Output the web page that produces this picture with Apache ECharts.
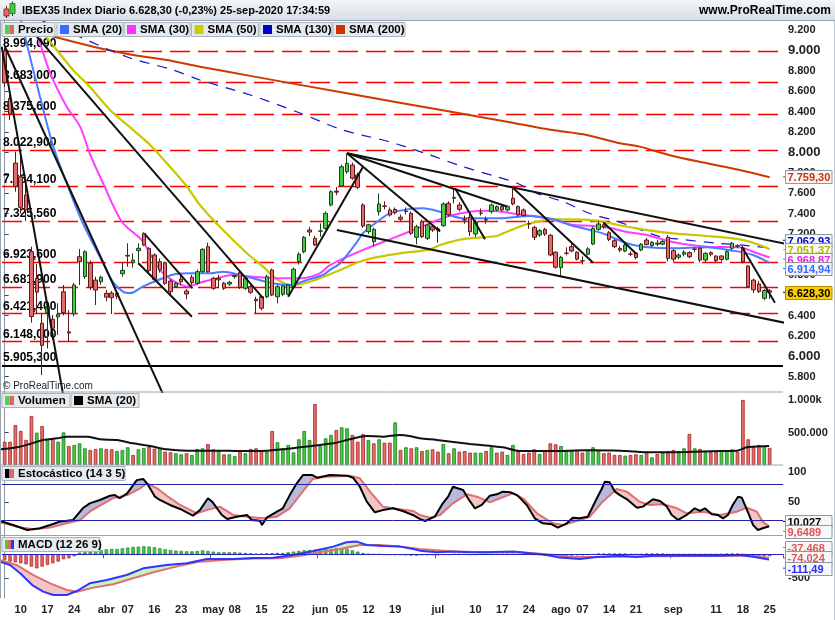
<!DOCTYPE html>
<html>
<head>
<meta charset="utf-8">
<script src="https://cdn.jsdelivr.net/npm/echarts@6/dist/echarts.min.js"></script>
<style>
html,body{margin:0;padding:0;background:#ffffff;}
#chart{width:835px;height:620px;}
</style>
</head>
<body>
<div id="chart"></div>
<script>
// ================= DATA =================
const titleText = 'IBEX35 Index Diario 6.628,30 (-0,23%) 25-sep-2020 17:34:59';
const siteText = 'www.ProRealTime.com';
const firstDay = '2020-03-05';
const lastDay = '2020-09-25';
const holidays = ['2020-04-10', '2020-04-13', '2020-05-01'];

const tickLabels = [
  ['2020-03-10','10'],['2020-03-17','17'],['2020-03-24','24'],['2020-04-01','abr'],['2020-04-07','07'],
  ['2020-04-16','16'],['2020-04-23','23'],['2020-05-04','may'],['2020-05-08','08'],['2020-05-15','15'],
  ['2020-05-22','22'],['2020-06-01','jun'],['2020-06-05','05'],['2020-06-12','12'],['2020-06-19','19'],
  ['2020-07-01','jul'],['2020-07-10','10'],['2020-07-17','17'],['2020-07-24','24'],['2020-08-03','ago'],
  ['2020-08-07','07'],['2020-08-14','14'],['2020-08-21','21'],['2020-09-01','sep'],['2020-09-11','11'],
  ['2020-09-18','18'],['2020-09-25','25']
];
const monthLabels = ['abr','may','jun','jul','ago','sep'];

const priceTicks = [5800,6000,6200,6400,6600,6800,7000,7200,7400,7600,7800,8000,8200,8400,8600,8800,9000,9200];
const volTicks = [500,1000];          // thousands
const stochTicks = [50,100];
const macdTicks = [-500,0];

const openP = [8994,8530,7895,7761,7582,7026,6765,6324,6428,6363,
  6387,6633,6240,6415,6977,6781,6912,6748,6732,6618,
  6620,6618,6810,6990,6918,7036,7206,7059,6994,6928,
  6918,6738,6683,6758,6640,6775,6716,6830,7075,6765,
  6765,6716,6709,6781,6820,6667,6683,6559,6584,6584,
  6847,6584,6608,6608,6683,6928,7026,7239,7157,7226,
  7255,7484,7620,7670,7810,7876,7778,7484,7222,7124,
  7418,7475,7435,7441,7364,7425,7402,7167,7320,7157,
  7271,7250,7281,7500,7558,7484,7340,7364,7199,7405,
  7340,7418,7435,7468,7435,7550,7468,7435,7300,7264,
  7190,7245,7187,7021,6870,7012,7075,7021,6937,7001,
  7101,7245,7290,7212,7134,7059,7033,7003,7011,7042,
  7140,7085,7110,7100,7167,7036,6971,7000,7017,7050,
  7059,6944,7017,6984,6984,6953,7059,7080,7059,6886,
  6748,6709,6569,6643];
const closeP = [8683,8376,7664,7461,7436,6390,6629,6107,6487,6275,
  6412,6428,6228,6699,6928,7026,6676,6650,6775,6580,
  6575,6590,6843,6983,6944,7059,7092,6840,6755,6847,
  6716,6633,6716,6732,6611,6722,6830,7049,6830,6667,
  6750,6667,6726,6791,6676,6765,6628,6545,6471,6781,
  6601,6683,6690,6700,6854,7001,7167,7219,7091,7230,
  7402,7614,7610,7859,7892,7746,7657,7278,7290,7245,
  7494,7470,7386,7408,7344,7420,7206,7271,7173,7288,
  7239,7235,7494,7386,7550,7441,7337,7222,7320,7402,
  7337,7484,7468,7435,7468,7494,7386,7380,7298,7167,
  7232,7199,6994,6874,6972,7010,7033,6953,6935,7053,
  7255,7298,7270,7147,7075,7042,7092,7001,6968,7098,
  7095,7118,7100,7125,6961,6953,6993,7020,6977,7048,
  6944,7011,7000,6938,6950,7026,7108,7085,6928,6683,
  6652,6636,6645,6628];
const lowP = [8640,8317,7614,7400,7325,6330,6415,5817,6078,6160,
  6209,6400,6143,6390,6699,6760,6650,6503,6700,6540,
  6415,6560,6780,6879,6870,6900,7080,6820,6740,6820,
  6700,6600,6670,6700,6560,6700,6700,6820,6820,6650,
  6667,6650,6690,6760,6660,6650,6610,6422,6450,6570,
  6590,6520,6590,6600,6670,6900,7010,7180,7080,7173,
  7240,7470,7580,7660,7790,7730,7640,7260,7200,7080,
  7380,7440,7370,7390,7320,7390,7190,7100,7160,7140,
  7220,7114,7270,7370,7500,7420,7300,7180,7170,7380,
  7300,7400,7420,7420,7420,7480,7370,7370,7250,7140,
  7170,7180,6980,6860,6781,6990,7020,6940,6900,6990,
  7090,7230,7250,7130,7060,7020,7020,6980,6950,7030,
  7090,7070,7080,7090,6930,6920,6950,6980,6960,7020,
  6920,6920,6980,6920,6930,6940,7040,7060,6910,6670,
  6620,6620,6550,6560];
const highP = [9025,8563,8006,8000,7690,7075,6907,6420,6535,6405,
  6520,6699,6454,6720,7052,7040,6940,6780,6790,6650,
  6640,6640,6920,7108,7010,7108,7215,7070,7010,6960,
  6930,6760,6730,6790,6660,6800,6850,7060,7114,6780,
  6800,6730,6740,6800,6830,6780,6700,6584,6600,6800,
  6860,6700,6700,6710,6870,7020,7180,7270,7180,7304,
  7420,7630,7660,7880,7991,7900,7800,7500,7300,7260,
  7598,7520,7460,7460,7390,7460,7420,7290,7340,7300,
  7290,7270,7510,7520,7648,7510,7380,7400,7340,7450,
  7370,7500,7480,7480,7480,7648,7480,7450,7330,7280,
  7250,7260,7200,7030,6985,7070,7110,7030,6980,7070,
  7270,7330,7316,7230,7150,7080,7100,7030,7020,7110,
  7160,7130,7140,7140,7190,7050,7010,7040,7030,7070,
  7070,7020,7030,6990,6990,7040,7120,7100,7080,6890,
  6760,6740,6660,6660];

// volume in thousands
const volume = [358,358,615,523,385,754,497,600,385,410,
  358,502,292,308,333,256,231,246,256,246,
  241,215,231,272,154,241,262,282,251,256,
  205,195,180,164,180,154,246,256,323,241,
  215,164,164,138,215,180,246,256,215,205,
  523,349,256,308,195,395,523,385,938,292,
  410,462,538,580,564,462,358,477,385,333,
  395,343,343,656,231,272,256,272,215,231,
  241,205,323,180,256,205,215,190,190,190,
  215,272,190,205,154,308,215,169,190,241,
  169,215,333,318,292,231,215,231,190,231,
  272,231,180,190,154,154,144,154,164,154,
  205,118,169,190,215,231,215,256,477,256,
  246,205,195,205,221,215,241,205,1000,395,
  282,308,292,263];

// indicator lines: [trading-day index, value]
const sma20 = [[2.9,9330],[4.1,9070],[6.6,8546],[9.1,8056],[11.6,7697],[14.6,7307],[17.8,6977],[20.2,6732],[22.1,6634],[23.5,6620],[25.8,6683],[28.7,6748],[31.8,6804],[34.9,6814],[38.4,6814],[40.8,6830],[45.3,6781],[49.6,6722],[53.3,6699],[56.5,6748],[59.5,6797],[60.8,6847],[62.7,6912],[65.9,7124],[67,7209],[70.1,7337],[72,7402],[75.2,7441],[78.2,7451],[81.4,7418],[85.7,7353],[92,7353],[98.2,7376],[103.2,7337],[105.7,7288],[109.4,7239],[111.8,7206],[116.3,7108],[119.3,7075],[124.9,7059],[131.3,7069],[136.1,7036],[139.9,6994],[143,6915]];
const sma30 = [[5.3,9280],[6.6,9073],[8.5,8778],[11.6,8448],[14.1,8252],[15.9,7991],[18.4,7697],[21.9,7320],[25.6,7141],[27.5,6977],[29.3,6830],[31.8,6732],[34.3,6683],[36.2,6716],[38.4,6748],[42.7,6797],[46.4,6781],[51.5,6765],[55.2,6765],[58.9,6814],[60.8,6895],[67,7043],[73.3,7173],[79.5,7304],[82.7,7370],[87,7418],[90.7,7428],[95.8,7396],[101.4,7353],[106,7290],[109.4,7280],[113,7260],[116.3,7220],[120,7190],[124.9,7120],[131.3,7075],[137.4,7069],[139.9,7026],[143,6969]];
const sma50 = [[6.3,9230],[8.5,9085],[12.8,8808],[15.9,8644],[19.7,8416],[24,8220],[27.2,8072],[30.3,7893],[34.1,7663],[36.5,7484],[40.2,7271],[45.3,7010],[48.3,6879],[50.9,6755],[53.9,6699],[56.5,6722],[58.9,6765],[62.7,6847],[66.4,6928],[70.1,6977],[73.9,7010],[79.5,7049],[81.4,7092],[85.7,7150],[92,7180],[93.9,7222],[97.6,7295],[102.5,7343],[105.7,7343],[110.7,7330],[113.7,7298],[118.7,7250],[124.9,7206],[131.3,7180],[137.4,7147],[139.9,7114],[143,7051]];
const sma130 = [[6.6,9300],[14.1,9131],[22.9,8935],[31.5,8808],[36.5,8710],[45.9,8563],[55.2,8386],[63.2,8219],[70.7,8121],[73.3,8082],[79.5,7975],[85.7,7859],[92,7761],[95.8,7697],[99.5,7598],[104.4,7516],[109.4,7400],[113.7,7337],[118.2,7255],[122.5,7173],[126,7150],[133,7110],[138,7090],[143,7063]];
const sma200 = [[-0.5,9265],[11.6,9102],[17.8,9021],[24,8955],[30.3,8906],[36.5,8840],[45.9,8750],[64.5,8574],[83.2,8400],[92.6,8312],[102.5,8219],[108.8,8170],[115,8089],[118.7,8056],[124.9,7964],[131.3,7893],[137.4,7827],[143,7756]];
const volSma = [[-0.9,241],[2.3,272],[4.7,323],[7.2,385],[9.8,410],[11.6,436],[15.4,436],[17.8,395],[21,385],[24,333],[27.2,292],[30.3,241],[34.1,221],[39.7,221],[44,215],[49,221],[52,241],[55.2,272],[58.9,308],[61.4,333],[64.5,395],[67.7,446],[70.7,436],[73.9,462],[76.3,436],[77.6,410],[80.8,385],[87,323],[93.1,272],[96.3,215],[102.5,215],[108.8,226],[115,221],[121.2,195],[127.5,200],[133.7,215],[136.9,221],[138.7,272],[139.9,282],[142.9,291]];
const stochK = [[-0.9,18.9],[1.6,12.2],[4.2,3.9],[6.6,6.7],[8.5,12.2],[10.3,17.8],[12.8,20.6],[14.6,40],[15.9,48.3],[17.8,53.9],[19.7,61],[20.6,62],[21.5,56.7],[22.9,65],[24.7,87],[25.9,89],[26.8,79],[28.1,59.4],[29,53.9],[30.9,45.6],[32.8,38.9],[35.2,27.8],[36.5,37],[38,56.7],[38.9,50],[40.6,28.9],[41.6,22.2],[43.4,26],[45.3,28.9],[46.2,20.6],[47.7,19.4],[48.1,12.2],[49,24.4],[50.9,34.4],[52,40],[53.3,62],[54.6,81.7],[55.8,95.6],[57.4,95.6],[58.4,91],[60.8,95.6],[64,94.4],[65.1,91],[66.4,76],[67.7,51],[69.2,33.3],[70.7,37],[72.6,40],[74.4,35.6],[76.3,28.9],[77.6,22.2],[78.6,18.9],[80.4,26],[81.9,48.3],[82.9,59.4],[83.8,76],[85.7,70.6],[86.6,56.7],[87.9,40],[89.2,45.6],[90.7,61],[92,63.3],[93.1,67.8],[94.5,66.7],[95.8,62],[97.6,45.6],[99.1,23.3],[100.6,15],[102.3,13.3],[103.4,7.8],[105.1,15],[106.2,24.4],[107.5,23.3],[109,26],[110.7,56.7],[111.6,72.2],[112.2,84.4],[113.1,83.3],[114.1,67.8],[115,62],[116.5,53.9],[118.2,41],[119.3,42.8],[121.2,55],[122.5,52.2],[123.8,42.8],[124.7,28.9],[125.9,20.6],[127.5,28.9],[129,40],[130,35.6],[130.9,40],[132.2,30],[133.3,28.9],[134.3,23.3],[135.2,28.9],[136.1,45.6],[137.1,59.4],[137.8,57.8],[138.9,34.4],[139.9,12.2],[140.8,3.9],[141.7,6.7],[142.9,10.0]];
const stochD = [[-0.9,16.7],[2.3,9.4],[5.3,5],[8.5,7.8],[11.6,15],[14.1,20.6],[15.9,34.4],[17.8,44.4],[20.2,56.7],[22.9,62],[25.3,73.3],[26.6,81.7],[28.5,73.3],[30.3,61],[32.8,45.6],[35.9,31.7],[37.8,37],[40.2,42.8],[42.7,28.9],[45.3,26],[48.3,23.3],[50.9,26],[53.3,40],[55.2,62],[57.6,89],[60.2,92.8],[64.5,94.4],[66.4,90],[68.3,67.8],[70.7,42.8],[73.9,38.3],[76.3,35.6],[77.6,28.9],[79.5,24.4],[81.4,28.9],[83.8,48.3],[86.4,63.3],[88.3,59.4],[90.7,50],[92.6,56.7],[95,65],[96.9,56.7],[99.5,31.7],[102.5,15],[104.4,12.2],[107.5,20.6],[109.4,26],[111.8,51],[114.4,72.2],[116.3,67.8],[118.7,51],[120.6,45.6],[123.1,46.7],[125.7,40],[127.5,31.7],[130.5,34.4],[133.7,28.9],[136.9,34.4],[138.7,41],[140.6,34.4],[141.7,17.8],[142.9,9.6]];
const macdLine = [[-0.9,-153],[1,-222],[2.9,-396],[5.3,-653],[7.2,-778],[9.1,-847],[11.6,-847],[13.5,-764],[15.9,-604],[19.1,-535],[22.8,-430],[25.9,-292],[30.3,-222],[34,-188],[37.8,-97],[42.7,-97],[46.5,-78],[50.2,-70],[53.9,-14],[57.7,69],[61.4,160],[63.9,250],[65.8,264],[67.7,194],[70.8,174],[73.9,160],[76.4,111],[77.6,76],[80.7,42],[83.9,56],[87,42],[90.1,42],[95.1,56],[98.2,21],[101.3,-14],[103.8,-69],[107.5,-97],[110.7,-56],[115,-28],[118.1,-56],[121.2,-28],[127.5,-28],[133.7,-28],[137.4,-14],[139.9,-49],[142.9,-111]];
const macdSignal = [[-0.9,-118],[2.2,-222],[5.3,-430],[8.5,-604],[11.6,-743],[13.5,-778],[16.6,-694],[20.3,-625],[24,-500],[27.8,-375],[32.1,-257],[36.5,-153],[41.5,-111],[46.5,-90],[51.5,-83],[55.2,-28],[58.9,42],[62.7,111],[66.4,194],[70.1,194],[73.9,160],[77.6,110],[83.9,56],[90.1,42],[96.3,42],[101.3,0],[105.7,-49],[110.7,-56],[115,-49],[121.2,-42],[127.5,-35],[133.7,-28],[137.4,-28],[139.9,-28],[142.9,-74]];
const macdHist = [-118,-153,-167,-188,-208,-257,-292,-257,-222,-188,
  -153,-104,-83,-42,35,42,56,69,90,104,
  111,111,125,139,153,160,167,160,146,125,
  104,90,76,69,62,62,69,83,69,56,
  42,42,42,42,35,28,21,7,14,21,
  21,28,28,42,56,69,83,90,97,111,
  125,111,125,125,111,83,56,28,7,0,
  0,-14,-14,-14,-14,-21,-28,-28,-21,-21,
  -21,-21,-14,-14,0,0,0,-14,-14,0,
  0,0,0,0,7,7,0,0,-7,-14,
  -14,-21,-21,-28,-28,-28,-28,-21,-21,-14,
  -7,14,14,14,14,14,14,0,0,0,
  14,14,14,14,0,0,0,0,0,0,
  0,0,0,0,0,14,14,14,0,-14,
  -28,-35,-35,-37];

// horizontal levels drawn on the price chart
const levelLines = [8994.09, 8683.0, 8375.6, 8022.9, 7664.1, 7325.56, 6923.6, 6681.9, 6421.4, 6148.0];
const supportLine = 5905.3;

// hand-drawn trend lines: [[index, value], [index, value]]
const trendLines = [
  [[-0.56,9036],[12,5305]],
  [[0.06,9036],[30,5583]],
  [[5.3,9180],[48.3,6571]],
  [[26.2,7199],[35.1,6667]],
  [[25.0,6912],[35.0,6388]],
  [[53.0,6585],[67.0,7859]],
  [[64.0,7991],[146.0,7103]],
  [[64.0,7991],[93.9,7469]],
  [[64.0,7991],[81.4,7223]],
  [[84.2,7648],[89.8,7147]],
  [[95.1,7648],[110.0,6918]],
  [[62.1,7239],[146.0,6327]],
  [[112.0,7310],[118.1,7003]],
  [[137.8,7075],[144.0,6526]]
];

// last values shown in the right-hand boxes: [value, decimals, colour]
const lastMain = [[7759.30,2,'#cc3300'],[7062.93,2,'#0000cc'],[7051.37,2,'#b5b500'],[6968.87,2,'#ee22ee'],[6914.94,2,'#3366ff']];
const lastPrice = [6628.30,2,'#000000'];
const lastVol = [[291243,0,'#000000'],[263364,0,'#e05555']];
const lastStoch = [[10.027,3,'#000000'],[9.6489,4,'#e05555']];
const lastMacd = [[-37.468,3,'#e05555'],[-74.024,3,'#e05555'],[-111.49,2,'#2a2aff']];

// ================= HELPERS =================
const FONT = 'Liberation Sans, Arial, sans-serif';
function esNum(v, dec) {
  const s = Math.abs(v).toFixed(dec);
  const parts = s.split('.');
  const intPart = parts[0].replace(/\B(?=(\d{3})+(?!\d))/g, '.');
  return (v < 0 ? '-' : '') + intPart + (parts[1] ? ',' + parts[1] : '');
}
function tradingDays() {
  const out = [];
  const hol = new Set(holidays);
  let t = Date.parse(firstDay + 'T00:00:00Z');
  const end = Date.parse(lastDay + 'T00:00:00Z');
  while (t <= end) {
    const d = new Date(t);
    const wd = d.getUTCDay();
    const s = d.toISOString().slice(0, 10);
    if (wd !== 0 && wd !== 6 && !hol.has(s)) out.push(s);
    t += 86400000;
  }
  return out;
}
const days = tradingDays();
const cats = days.concat(['+1', '+2']);
const labelMap = new Map();
const monthTick = new Set();
tickLabels.forEach(([d, txt]) => {
  const i = days.indexOf(d);
  if (i >= 0) { labelMap.set(i, txt); if (monthLabels.includes(txt)) monthTick.add(i); }
});

const candleData = openP.map((o, i) => [o, closeP[i], lowP[i], highP[i]]);
const volData = volume.map((v, i) => {
  const up = i === 0 ? closeP[0] >= openP[0] : closeP[i] >= closeP[i - 1];
  return { value: v, itemStyle: { color: up ? '#45cc45' : '#e86c6c', borderColor: up ? '#1d7a1d' : '#a02525', borderWidth: 0.8 } };
});
const histData = macdHist.map(v => ({ value: v, itemStyle: { color: v >= 0 ? '#3fcc3f' : '#e06060', borderColor: v >= 0 ? '#1d7a1d' : '#a02525', borderWidth: 0.6 } }));

function fillSeries(A, B, upColor, downColor, xi, yi) {
  return {
    type: 'custom', xAxisIndex: xi, yAxisIndex: yi, silent: true, z: 1, clip: true, animation: false,
    data: [[0, 0]],
    renderItem: function (params, api) {
      const pa = A.map(p => api.coord(p)), pb = B.map(p => api.coord(p));
      const lerp = (P, x) => {
        for (let k = 1; k < P.length; k++) {
          if (x <= P[k][0]) { const t = (x - P[k - 1][0]) / (P[k][0] - P[k - 1][0]); return P[k - 1][1] + t * (P[k][1] - P[k - 1][1]); }
        }
        return P[P.length - 1][1];
      };
      const x0 = Math.max(pa[0][0], pb[0][0]), x1 = Math.min(pa[pa.length - 1][0], pb[pb.length - 1][0]);
      const xs = Array.from(new Set(pa.concat(pb).map(p => p[0]))).filter(x => x >= x0 && x <= x1).sort((a, b) => a - b);
      const rows = xs.map(x => [x, lerp(pa, x), lerp(pb, x)]);
      const children = [];
      let top = [], bot = [], acc = 0;
      const flush = () => {
        if (top.length > 1) children.push({ type: 'polygon', shape: { points: top.concat(bot.slice().reverse()) }, style: { fill: acc > 0 ? upColor : downColor } });
        top = []; bot = []; acc = 0;
      };
      for (let k = 0; k < rows.length; k++) {
        const [x, ya, yb] = rows[k];
        if (k > 0) {
          const [px, pya, pyb] = rows[k - 1];
          const d0 = pyb - pya, d1 = yb - ya;
          if (d0 * d1 < 0) {
            const t = d0 / (d0 - d1);
            const cx = px + t * (x - px), cy = pya + t * (ya - pya);
            top.push([cx, cy]); bot.push([cx, cy]); flush();
            top.push([cx, cy]); bot.push([cx, cy]);
          }
        }
        top.push([x, ya]); bot.push([x, yb]); acc += (yb - ya);
      }
      flush();
      return { type: 'group', children: children };
    }
  };
}
function lineSeries(data, color, width, xi, yi, extra) {
  return Object.assign({
    type: 'line', data: data, xAxisIndex: xi, yAxisIndex: yi, symbol: 'none', smooth: 0.3, silent: true,
    lineStyle: { color: color, width: width }, z: 3, clip: true, animation: false
  }, extra || {});
}

// ================= CHART =================
const chart = echarts.init(document.getElementById('chart'), null, { renderer: 'canvas' });
const GL = 2, GW = 781;
const grids = [
  { left: GL, top: 20, width: GW, height: 372 },
  { left: GL, top: 392, width: GW, height: 73 },
  { left: GL, top: 465, width: GW, height: 70 },
  { left: GL, top: 536, width: GW, height: 62 }
];
const axisLineGrey = { show: true, lineStyle: { color: '#8c96a0', width: 1 } };
function catAxis(g, show) {
  return {
    type: 'category', gridIndex: g, data: cats, boundaryGap: true, show: show,
    axisLine: axisLineGrey,
    axisTick: show ? { show: true, alignWithLabel: false, interval: (i) => monthTick.has(i), length: 4, lineStyle: { color: '#555' } } : { show: false },
    axisLabel: show ? {
      interval: (i) => labelMap.has(i), formatter: (v, i) => labelMap.get(i) || '',
      color: '#222', fontWeight: 'bold', fontSize: 11, fontFamily: FONT, margin: 6
    } : { show: false },
    splitLine: { show: false }
  };
}
function valXAxis(g) {
  return { type: 'value', gridIndex: g, min: -0.5, max: cats.length - 0.5, show: false, splitLine: { show: false } };
}
function yAx(g, min, max, ticks, fmt, rich) {
  return {
    type: 'value', gridIndex: g, position: 'right', min: min, max: max,
    splitLine: { show: false },
    axisLine: axisLineGrey,
    axisTick: { show: true, length: 4, lineStyle: { color: '#444' }, customValues: ticks },
    axisLabel: { customValues: ticks, margin: 5, color: '#222', fontWeight: 'bold', fontSize: 11, fontFamily: FONT, formatter: fmt, rich: rich || {} }
  };
}

const series = [];
// price candles
series.push({
  type: 'candlestick', xAxisIndex: 0, yAxisIndex: 0, data: candleData, barWidth: 4, z: 4, silent: true, animation: false,
  itemStyle: { color: '#45cc45', color0: '#e46a6a', borderColor: '#1f3f1f', borderColor0: '#5a1a1a', borderWidth: 1 },
  markLine: {
    silent: true, symbol: ['none', 'none'], animation: false, z: 2,
    data: levelLines.map(v => ({
      yAxis: v, lineStyle: { color: '#ff0000', type: [20, 8], width: 1.3 },
      label: { show: true, position: 'insideStartTop', distance: [1, 1], formatter: () => esNum(v, 3), color: '#000', fontWeight: 'bold', fontSize: 12, fontFamily: FONT }
    })).concat([{
      yAxis: supportLine, lineStyle: { color: '#000000', type: 'solid', width: 2.2 },
      label: { show: true, position: 'insideStartTop', distance: [1, 2], formatter: () => esNum(supportLine, 3), color: '#000', fontWeight: 'bold', fontSize: 12, fontFamily: FONT }
    }])
  }
});
series.push(lineSeries(sma200, '#cc3a00', 2, 4, 0));
series.push(lineSeries(sma130, '#1515cc', 1.2, 4, 0, { lineStyle: { color: '#1515cc', width: 1.2, type: [10, 8] } }));
series.push(lineSeries(sma50, '#c8c800', 2.2, 4, 0));
series.push(lineSeries(sma30, '#ff3cff', 2, 4, 0));
series.push(lineSeries(sma20, '#4a7dff', 2, 4, 0));
trendLines.forEach(seg => {
  series.push({ type: 'line', data: seg, xAxisIndex: 4, yAxisIndex: 0, symbol: 'none', silent: true, z: 5, clip: true, animation: false, lineStyle: { color: '#111', width: 2 } });
});
// volume
series.push({ type: 'bar', xAxisIndex: 1, yAxisIndex: 1, data: volData, barWidth: 3.6, silent: true, animation: false, z: 2 });
series.push(lineSeries(volSma, '#111111', 2, 5, 1));
// stochastic
series.push(fillSeries(stochK, stochD, '#b9b9dc', '#f3c6c6', 6, 2));
series.push({ type: 'line', xAxisIndex: 6, yAxisIndex: 2, data: [], silent: true,
  markLine: { silent: true, symbol: ['none', 'none'], animation: false, label: { show: false },
    data: [{ yAxis: 80 }, { yAxis: 20 }], lineStyle: { color: '#2323a0', type: 'solid', width: 1 } } });
series.push(lineSeries(stochD, '#e07070', 2, 6, 2, { smooth: false }));
series.push(lineSeries(stochK, '#000000', 2, 6, 2, { smooth: false, z: 4 }));
// macd
series.push({ type: 'bar', xAxisIndex: 3, yAxisIndex: 3, data: histData, barWidth: 3.4, silent: true, animation: false, z: 2 });
series.push(fillSeries(macdLine, macdSignal, '#c9f2c4', '#f3c6c6', 7, 3));
series.push({ type: 'line', xAxisIndex: 7, yAxisIndex: 3, data: [], silent: true,
  markLine: { silent: true, symbol: ['none', 'none'], animation: false, label: { show: false },
    data: [{ yAxis: 0 }], lineStyle: { color: '#2323c0', type: 'solid', width: 1 } } });
series.push(lineSeries(macdSignal, '#e07070', 2, 7, 3, { smooth: false }));
series.push(lineSeries(macdLine, '#3333ff', 2, 7, 3, { smooth: false, z: 4 }));

chart.setOption({
  animation: false,
  backgroundColor: '#ffffff',
  textStyle: { fontFamily: FONT },
  grid: grids,
  xAxis: [catAxis(0, false), catAxis(1, false), catAxis(2, false), catAxis(3, true), valXAxis(0), valXAxis(1), valXAxis(2), valXAxis(3)],
  yAxis: [
    yAx(0, 5650, 9298, priceTicks, v => (v % 1000 === 0 ? '{b|' + esNum(v, 0) + '}' : esNum(v, 0)), { b: { fontSize: 13, fontWeight: 'bold', color: '#222', fontFamily: FONT } }),
    yAx(1, 0, 1123, volTicks, v => (v >= 1000 ? esNum(v, 0) + 'k' : esNum(v * 1000, 0))),
    yAx(2, -4.5, 112.2, stochTicks, v => String(v)),
    yAx(3, -910, 381, macdTicks, v => esNum(v, 0))
  ],
  series: series
});

// ================= OVERLAY GRAPHICS =================
const g = [];
function withZ(el, z) {
  el.z = z;
  if (el.children) el.children.forEach(c => withZ(c, z));
  return el;
}
const lineEl = (x1, y1, x2, y2, c, w) => ({ type: 'line', shape: { x1, y1, x2, y2 }, style: { stroke: c, lineWidth: w || 1 }, silent: true });
// title bar
g.push(withZ({ type: 'rect', shape: { x: 0, y: 0, width: 835, height: 20 }, style: { fill: { type: 'linear', x: 0, y: 0, x2: 0, y2: 1, colorStops: [{ offset: 0, color: '#f3f6f9' }, { offset: 1, color: '#d6dee7' }] } }, silent: true }, 100));
g.push(withZ(lineEl(0, 20.5, 835, 20.5, '#9aa4ae'), 101));
g.push(withZ(lineEl(6.5, 6, 6.5, 18, '#5a1a1a'), 101));
g.push(withZ({ type: 'rect', shape: { x: 4, y: 9, width: 5, height: 7 }, style: { fill: '#e46a6a', stroke: '#7a2020', lineWidth: 0.8 }, silent: true }, 102));
g.push(withZ(lineEl(12.5, 1.5, 12.5, 16, '#1f3f1f'), 101));
g.push(withZ({ type: 'rect', shape: { x: 10, y: 3.5, width: 5, height: 10 }, style: { fill: '#45cc45', stroke: '#1d6a1d', lineWidth: 0.8 }, silent: true }, 102));
g.push(withZ({ type: 'text', x: 22, y: 11, style: { text: titleText, fill: '#000', font: 'bold 11px ' + FONT, verticalAlign: 'middle' }, silent: true }, 102));
g.push(withZ({ type: 'text', x: 831, y: 11, style: { text: siteText, fill: '#000', font: 'bold 12px ' + FONT, align: 'right', verticalAlign: 'middle' }, silent: true }, 102));
// panel separators / frame
g.push(withZ(lineEl(0, 392, 783, 392, '#9aa4ae'), 100));
g.push(withZ(lineEl(0, 465, 783, 465, '#9aa4ae'), 100));
g.push(withZ(lineEl(0, 535.5, 783, 535.5, '#9aa4ae'), 100));
g.push(withZ(lineEl(0.5, 20, 0.5, 598, '#9aa4ae'), 100));
g.push(withZ(lineEl(834.5, 20, 834.5, 620, '#c0c7ce'), 100));
// legends
function legendItem(x, y, w, h, text, colors) {
  const ch = [{ type: 'rect', shape: { x: x, y: y, width: w, height: h }, style: { fill: '#e5eaef', stroke: '#a9b3bd', lineWidth: 1 } }];
  const iw = 9, ix = x + 3, iy = y + (h - 9) / 2;
  colors.forEach((c, k) => ch.push({ type: 'rect', shape: { x: ix + k * iw / colors.length, y: iy, width: iw / colors.length, height: iw }, style: { fill: c } }));
  ch.push({ type: 'text', x: x + 16, y: y + h / 2 + 0.5, style: { text: text, fill: '#000', font: 'bold 11.5px ' + FONT, verticalAlign: 'middle' } });
  return withZ({ type: 'group', children: ch, silent: true }, 110);
}
g.push(legendItem(2, 22.5, 53, 14, 'Precio', ['#55cc55', '#e06666']));
g.push(legendItem(57, 22.5, 66, 14, 'SMA (20)', ['#3d6bff']));
g.push(legendItem(124, 22.5, 66, 14, 'SMA (30)', ['#ff33ff']));
g.push(legendItem(191.5, 22.5, 67, 14, 'SMA (50)', ['#cccc00']));
g.push(legendItem(260, 22.5, 72, 14, 'SMA (130)', ['#0000cc']));
g.push(legendItem(333, 22.5, 72, 14, 'SMA (200)', ['#cc3300']));
g.push(legendItem(2, 393.5, 68, 14, 'Volumen', ['#55cc55', '#e06666']));
g.push(legendItem(71, 393.5, 68, 14, 'SMA (20)', ['#000000']));
g.push(legendItem(2, 466.5, 123, 14, 'Estocástico (14 3 5)', ['#000000', '#e06666']));
g.push(legendItem(2, 537.5, 98, 14, 'MACD (12 26 9)', ['#45cc45', '#e06666', '#3333ff']));
g.push(withZ({ type: 'text', x: 3, y: 386, style: { text: '© ProRealTime.com', fill: '#222', font: '10px ' + FONT, verticalAlign: 'middle' }, silent: true }, 101));

// value boxes on the right axis
let boxZ = 120;
function valueBoxes(list, yAxisIndex, gap, opts) {
  const items = list.map(it => ({ v: it[0], dec: it[1], color: it[2], y: chart.convertToPixel({ yAxisIndex: yAxisIndex }, it[0]) }));
  items.sort((a, b) => a.y - b.y);
  for (let it = 0; it < 60; it++) {
    for (let k = 1; k < items.length; k++) {
      const a = items[k - 1], b = items[k];
      if (b.y - a.y < gap) { const m = (a.y + b.y) / 2; a.y = m - gap / 2; b.y = m + gap / 2; }
    }
  }
  items.forEach(it => {
    const bg = (opts && opts.bg) || '#f6f7f8';
    const bd = (opts && opts.bd) || '#8e98a2';
    const top = Math.round(it.y - 6.5) + 0.5;
    boxZ += 2;
    g.push(withZ(lineEl(783, it.y, 786, it.y, it.color), boxZ));
    g.push(withZ({ type: 'rect', shape: { x: 785.5, y: top, width: 46.5, height: 13 }, style: { fill: bg, stroke: bd, lineWidth: 1 }, silent: true }, boxZ));
    g.push(withZ({ type: 'text', x: 787.5, y: top + 7, style: { text: esNum(it.v, it.dec), fill: it.color, font: 'bold 11px ' + FONT, verticalAlign: 'middle' }, silent: true }, boxZ + 1));
  });
}
valueBoxes(lastMain, 0, 9.4);
valueBoxes([lastPrice], 0, 9.4, { bg: '#ffcc00', bd: '#b38f00' });
valueBoxes(lastVol, 1, 13.5);
valueBoxes(lastStoch, 2, 10);
valueBoxes(lastMacd, 3, 10.3);

chart.setOption({ graphic: { elements: g } });
</script>
</body>
</html>
